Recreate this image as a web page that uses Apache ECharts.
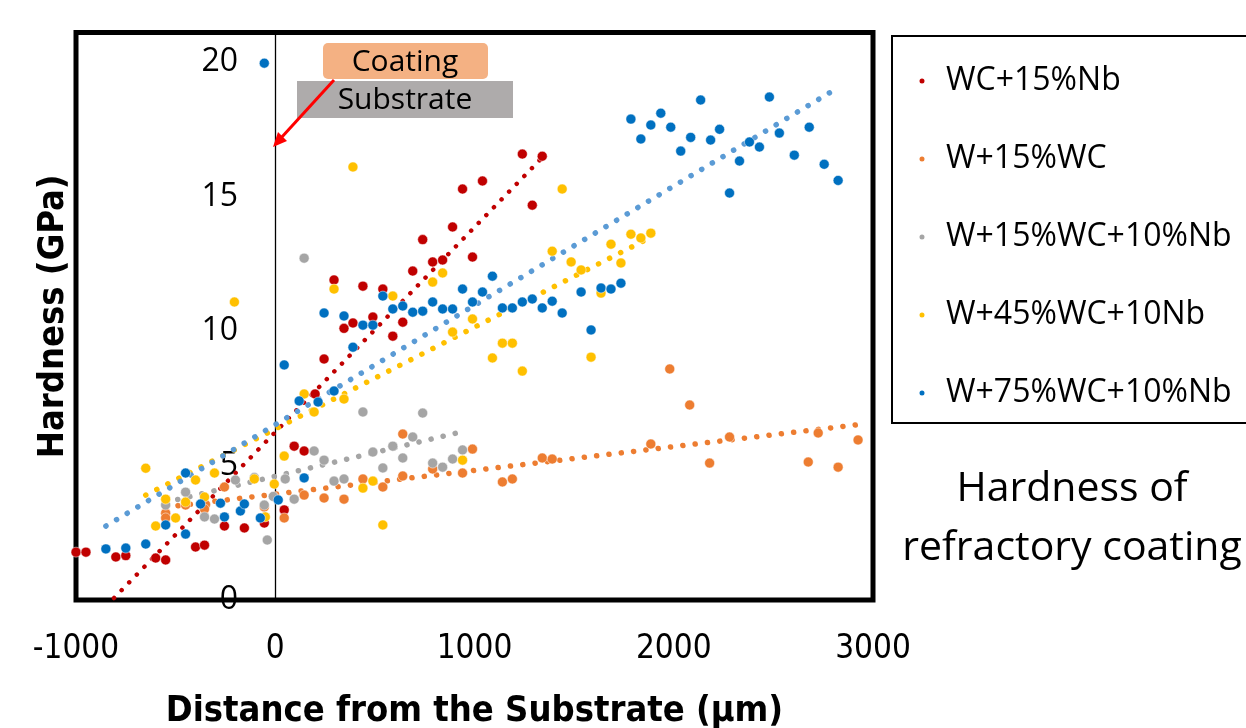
<!DOCTYPE html>
<html>
<head>
<meta charset="utf-8">
<title>Hardness of refractory coating</title>
<script src="https://cdn.jsdelivr.net/npm/echarts@6/dist/echarts.min.js"></script>
<style>
html, body { margin: 0; padding: 0; background: #fff; }
#main1 { width: 1246px; height: 728px; }
</style>
</head>
<body>
<div id="main1"></div>
<script>
// series names
var names = ['WC+15%Nb', 'W+15%WC', 'W+15%WC+10%Nb', 'W+45%WC+10Nb', 'W+75%WC+10%Nb'];
var colors = ['#C00000', '#ED7D31', '#A5A5A5', '#FFC000', '#0070C0'];
var trendColors = ['#C00000', '#ED7D31', '#A5A5A5', '#FFC000', '#5B9BD5'];

// x ticks / y ticks
var xTicks = [-1000, 0, 1000, 2000, 3000];
var yTicks = [0, 5, 10, 15, 20];

// [distance (um), hardness (GPa)]
var wcNb = [[-1000,1.78],[-950,1.78],[-800,1.6],[-750,1.65],[-600,1.56],[-550,1.49],[-400,1.97],[-355,2.04],
	[-255,2.75],[-155,2.68],[-55,2.86],[45,3.35],[95,5.72],[145,5.54],[200,7.66],[245,8.96],[295,11.9],
	[345,10.1],[390,10.3],[440,11.67],[490,10.52],[540,11.56],[590,9.81],[640,10.33],[690,12.23],[740,13.4],
	[790,12.57],[840,12.64],[890,13.87],[940,15.28],[990,12.75],[1040,15.58],[1240,16.58],[1290,14.68],[1340,16.5]];

var w15wc = [[-550,3.23],[-550,3.05],[-450,3.53],[-350,3.55],[-355,3.38],[-255,4.2],[-55,3.46],[45,3.05],[145,3.9],
	[245,3.79],[345,3.75],[440,4.5],[540,4.2],[640,4.61],[640,6.17],[790,4.87],[940,4.72],[990,5.61],
	[1140,4.39],[1190,4.5],[1340,5.28],[1390,5.24],[1885,5.8],[1980,8.59],[2080,7.25],[2180,5.09],
	[2280,6.06],[2675,5.13],[2725,6.21],[2825,4.94],[2925,5.95]];

var w15wcNb = [[-550,3.53],[-450,4.01],[-355,3.09],[-305,3.01],[-200,4.46],[-105,4.55],[-55,3.53],[-40,2.23],
	[-10,3.85],[50,4.5],[95,3.75],[145,12.71],[195,5.54],[245,5.2],[295,4.42],[345,4.5],[440,6.99],[490,5.5],
	[540,4.91],[590,5.72],[640,5.28],[690,6.06],[740,6.95],[790,5.09],[840,4.94],[890,5.24],[940,5.58]];

var w45wcNb = [[-650,4.9],[-600,2.75],[-550,3.75],[-500,3.05],[-450,3.64],[-400,4.46],[-355,3.83],[-305,4.72],
	[-205,11.08],[-105,4.5],[-50,3.09],[-5,4.31],[45,5.35],[145,7.66],[195,6.99],[295,11.56],[345,7.47],
	[390,16.1],[440,4.16],[490,4.42],[540,2.79],[590,11.3],[790,11.82],[840,12.16],[890,9.96],[940,5.2],
	[990,10.45],[1090,9.0],[1140,9.55],[1190,9.55],[1240,8.51],[1390,12.97],[1440,15.28],[1485,12.57],
	[1535,12.27],[1585,9.03],[1635,11.41],[1685,13.23],[1735,12.53],[1785,13.6],[1835,13.46],[1885,13.64]];

var w75wcNb = [[-850,1.9],[-750,1.93],[-650,2.08],[-550,2.79],[-450,2.45],[-450,4.72],[-375,3.57],[-275,3.6],
	[-255,3.09],[-175,3.31],[-155,3.57],[-75,3.05],[-55,19.96],[15,3.72],[45,8.74],[120,7.4],[145,4.54],
	[215,7.36],[245,10.67],[295,7.77],[345,10.56],[390,9.4],[440,10.22],[490,10.22],[540,11.3],[590,10.82],
	[640,10.93],[690,10.7],[740,10.74],[790,11.08],[840,10.82],[890,10.82],[940,11.56],[990,11.08],
	[1040,11.45],[1090,12.04],[1140,10.86],[1190,10.86],[1240,11.08],[1290,11.19],[1340,10.86],[1390,11.11],
	[1440,10.67],[1535,11.45],[1585,10.04],[1635,11.6],[1685,11.56],[1735,11.78],[1785,17.88],[1835,17.14],
	[1885,17.66],[1935,18.1],[1985,17.58],[2035,16.69],[2085,17.2],[2135,18.59],[2185,17.1],[2230,17.5],
	[2280,15.13],[2330,16.32],[2380,17.03],[2430,16.84],[2480,18.7],[2530,17.36],[2605,16.54],[2680,17.58],
	[2755,16.2],[2825,15.6]];

// linear trendline end points (over each series' x range)
var trendWcNb = [[-1000,-1.38],[1340,16.45]];
var trendW15wc = [[-550,3.45],[2925,6.52]];
var trendW15wcNb = [[-550,3.63],[940,6.26]];
var trendW45wcNb = [[-650,3.9],[1885,13.49]];
var trendW75wcNb = [[-850,2.75],[2825,19.05]];

var points = [wcNb, w15wc, w15wcNb, w45wcNb, w75wcNb];
var trends = [trendWcNb, trendW15wc, trendW15wcNb, trendW45wcNb, trendW75wcNb];

var myChart = echarts.init(document.getElementById('main1'));

var series = [];
for (var i = 0; i < trends.length; i++) {
	series.push({
		name: 'trend ' + names[i],
		type: 'line',
		data: trends[i],
		symbol: 'none',
		silent: true,
		z: 1,
		lineStyle: {
			color: trendColors[i],
			width: i == 0 ? 4.5 : 5.5,
			type: i == 0 ? [0.1, 10.8] : [0.1, 12.3],
			cap: 'round'
		}
	});
}
for (var i = 0; i < points.length; i++) {
	series.push({
		name: names[i],
		type: 'scatter',
		data: points[i],
		symbol: 'circle',
		symbolSize: 10,
		z: 3,
		itemStyle: {
			color: colors[i],
			opacity: 1,
			borderColor: '#fff',
			borderWidth: 0.5
		}
	});
}

var labelFont = "'Open Sans', 'Liberation Sans', sans-serif";
var narrowFont = "'Liberation Sans Narrow', 'DejaVu Sans Condensed', sans-serif";

var option = {
	animation: false,
	backgroundColor: '#fff',
	grid: {
		show: true,
		left: 76,
		right: 373,
		top: 32.5,
		bottom: 128,
		containLabel: false,
		outerBoundsMode: 'none',
		borderColor: '#000',
		borderWidth: 5,
		backgroundColor: 'transparent'
	},
	legend: {
		orient: 'vertical',
		left: 892,
		top: 36,
		data: names,
		icon: 'circle',
		itemWidth: 7,
		itemHeight: 7,
		itemGap: 42,
		borderColor: '#000',
		borderWidth: 2,
		padding: [27, 40, 12, 25.5],
		textStyle: {
			fontFamily: labelFont,
			fontSize: 32,
			lineHeight: 36,
			color: '#000',
			padding: [0, 0, 0, 15.5]
		}
	},
	xAxis: {
		type: 'value',
		min: xTicks[0],
		max: xTicks[xTicks.length - 1],
		interval: 1000,
		name: 'Distance from the Substrate (\u00b5m)',
		nameLocation: 'middle',
		nameGap: 94,
		nameTextStyle: {
			fontFamily: narrowFont,
			fontWeight: 'bold',
			fontSize: 36,
			color: '#000'
		},
		axisLine: { show: false },
		axisTick: { show: false },
		splitLine: { show: false },
		axisLabel: {
			margin: 33,
			fontFamily: narrowFont,
			fontSize: 33,
			color: '#000',
			formatter: function (v) { return String(v); }
		}
	},
	yAxis: {
		type: 'value',
		min: yTicks[0],
		max: 21.1,
		interval: 5,
		name: 'Hardness (GPa)',
		nameLocation: 'middle',
		nameGap: 4,
		nameTextStyle: {
			fontFamily: narrowFont,
			fontWeight: 'bold',
			fontSize: 36,
			color: '#000'
		},
		axisLine: {
			show: true,
			onZero: true,
			lineStyle: { color: '#000', width: 1.3 }
		},
		axisTick: { show: false },
		splitLine: { show: false },
		axisLabel: {
			margin: -162,
			showMaxLabel: false,
			fontFamily: labelFont,
			fontSize: 32,
			color: '#000',
			formatter: function (v) { return String(v); }
		}
	},
	graphic: [
		{
			type: 'rect',
			shape: { x: 323, y: 43, width: 165, height: 36, r: 5 },
			style: { fill: '#F4B183' },
			z: 10
		},
		{
			type: 'text',
			x: 405, y: 62,
			style: { text: 'Coating', font: "30px " + labelFont, fill: '#000', align: 'center', verticalAlign: 'middle' },
			z: 11
		},
		{
			type: 'rect',
			shape: { x: 297, y: 81, width: 216, height: 37 },
			style: { fill: '#AEABAB' },
			z: 10
		},
		{
			type: 'text',
			x: 405, y: 100,
			style: { text: 'Substrate', font: "30px " + labelFont, fill: '#000', align: 'center', verticalAlign: 'middle' },
			z: 11
		},
		{
			type: 'line',
			shape: { x1: 334, y1: 80, x2: 281, y2: 138 },
			style: { stroke: '#FF0000', lineWidth: 3 },
			z: 12
		},
		{
			type: 'polygon',
			shape: { points: [[273, 147], [287, 141], [278, 132]] },
			style: { fill: '#FF0000' },
			z: 12
		},
		{
			type: 'text',
			x: 1072, y: 489,
			style: { text: 'Hardness of', font: "41px " + labelFont, fill: '#000', align: 'center', verticalAlign: 'middle' }
		},
		{
			type: 'text',
			x: 1072, y: 548,
			style: { text: 'refractory coating', font: "41px " + labelFont, fill: '#000', align: 'center', verticalAlign: 'middle' }
		}
	],
	series: series
};

myChart.setOption(option);
</script>
</body>
</html>
